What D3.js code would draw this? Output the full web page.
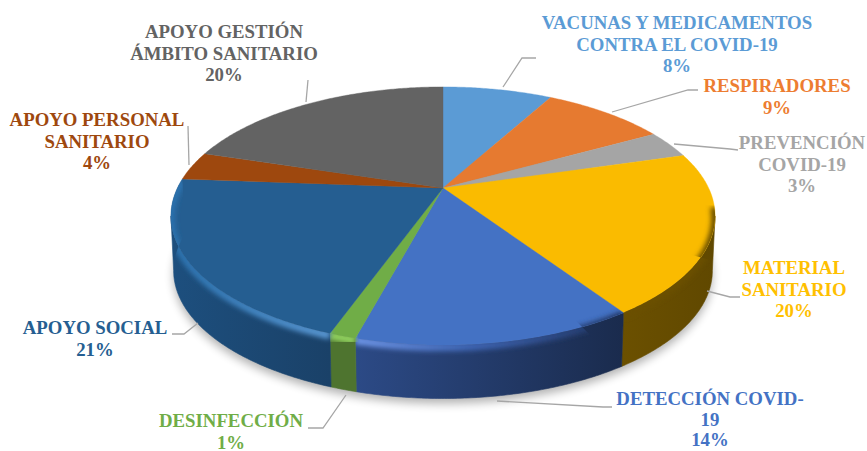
<!DOCTYPE html>
<html><head><meta charset="utf-8">
<style>html,body{margin:0;padding:0;background:#fff}svg{display:block}text{font-family:"Liberation Serif","Times New Roman",serif;font-weight:bold;font-size:18.8px;text-anchor:middle}</style>
<script src="https://cdnjs.cloudflare.com/ajax/libs/d3/7.8.5/d3.min.js"></script>
</head><body>
<script>
const categories=[["VACUNAS Y MEDICAMENTOS","CONTRA EL COVID-19"],["RESPIRADORES"],["PREVENCIÓN","COVID-19"],["MATERIAL","SANITARIO"],["DETECCIÓN COVID-","19"],["DESINFECCIÓN"],["APOYO SOCIAL"],["APOYO PERSONAL","SANITARIO"],["APOYO GESTIÓN","ÁMBITO SANITARIO"]];
const values=[8,9,3.49,20.11,13.6,1.3,20.7,3.6,20.2];
const colors=["#5b9bd5","#e67a30","#a5a5a5","#fabb00","#4472c4","#70ad47","#255e91","#9e480e","#636363"];
const labelColors=["#5b9bd5","#ed7d31","#a5a5a5","#ffc000","#4472c4","#70ad47","#255e91","#9e480e","#636363"];
const sideLeft=["#000","#000","#000","#6b5000","#2c4a86","#4e742f","#1d4f7e","#000","#000"];
const sideRight=["#000","#000","#000","#604800","#1a2b4d","#4e742f","#1a4168","#000","#000"];
const rimColors=["#000","#000","#000","#6b5000","#6d94e6","#92d35e","#5c9ad6","#000","#000"];

const W=867,H=451,cx=443,cy=188,K=0.217,A=123,B=265.6,depth=55,shrink=0.99;
const svg=d3.select("body").append("svg").attr("width",W).attr("height",H);
const defs=svg.append("defs");
defs.append("filter").attr("id","sh").attr("x","-10%").attr("y","-10%").attr("width","120%").attr("height","130%").append("feGaussianBlur").attr("stdDeviation",5);
defs.append("filter").attr("id","rim").attr("x","-10%").attr("y","-30%").attr("width","120%").attr("height","160%").append("feGaussianBlur").attr("stdDeviation",2.6);

const pie=d3.pie().sort(null).value(d=>d);
const arcs=pie(values);
const xS=d3.scaleLinear().domain([-1,1]).range([cx-B,cx+B]);
const yS=d3.scaleLinear().domain([-1,1]).range([cy-A,cy+A]);
function project(t,r=1,s=1,dy=0){
  const u=r*Math.sin(t),v=-r*Math.cos(t),den=1-K*v;
  return [cx+(xS(u/den)-cx)*s, cy+(yS(v/den)-cy)*s+dy];
}
function arcPts(a,b,s=1,dy=0){
  const n=Math.max(2,Math.ceil(Math.abs(b-a)/0.01));
  return d3.range(n+1).map(i=>project(a+(b-a)*i/n,1,s,dy));
}
const line=d3.line();
const sweep=[Math.PI/180*102.5,Math.PI/180*257.5];

// soft shadow under the pie
const hull=arcPts(0,2*Math.PI,shrink,depth);
svg.append("path").attr("d",line(hull)+"Z").attr("transform","translate(0,5)").attr("fill","#000").attr("opacity",.3).attr("filter","url(#sh)");

// side wall
const sides=svg.append("g");
arcs.forEach((d,i)=>{
  const a=Math.max(d.startAngle,sweep[0]),b=Math.min(d.endAngle,sweep[1]);
  if(a>=b) return;
  const id="sg"+i,top=arcPts(a,b),bot=arcPts(a,b,shrink,depth).reverse();
  const x0=d3.min(top,p=>p[0]),x1=d3.max(top,p=>p[0]);
  const g=defs.append("linearGradient").attr("id",id).attr("gradientUnits","userSpaceOnUse").attr("x1",x0).attr("x2",x1).attr("y1",0).attr("y2",0);
  g.append("stop").attr("offset",0).attr("stop-color",sideLeft[i]);
  g.append("stop").attr("offset",1).attr("stop-color",sideRight[i]);
  sides.append("path").attr("d",line(top.concat(bot))+"Z").attr("fill",`url(#${id})`).attr("stroke",`url(#${id})`).attr("stroke-width",.6);
});

// top face
const face=svg.append("g");
arcs.forEach((d,i)=>{
  const pts=[project(0,0)].concat(arcPts(d.startAngle,d.endAngle));
  face.append("path").attr("d",line(pts)+"Z").attr("fill",colors[i]).attr("stroke",colors[i]).attr("stroke-width",.4);
});

// bevel along the front rim
const rimG=svg.append("g");
arcs.forEach((d,i)=>{
  const a=Math.max(d.startAngle,sweep[0]-0.08),b=Math.min(d.endAngle,sweep[1]+0.3);
  if(a>=b) return;
  const cp="cp"+i,outer=arcPts(a,b),lower=arcPts(a,b,shrink,depth).reverse();
  defs.append("clipPath").attr("id",cp).append("path").attr("d",line([project(0,0)].concat(outer,lower))+"Z");
  const g=defs.append("linearGradient").attr("id","rg"+i).attr("gradientUnits","userSpaceOnUse").attr("x1",cx-272).attr("x2",cx+272).attr("y1",0).attr("y2",0);
  if(i===6){
    g.append("stop").attr("offset",0).attr("stop-color","#2a70ac");
    g.append("stop").attr("offset",.3).attr("stop-color",rimColors[i]);
  } else if(i===4){
    g.append("stop").attr("offset",.35).attr("stop-color",rimColors[i]);
    g.append("stop").attr("offset",.55).attr("stop-color","#3f66b5");
    g.append("stop").attr("offset",.85).attr("stop-color","#1c2f58");
  } else {
    g.append("stop").attr("offset",0).attr("stop-color",rimColors[i]);
  }
  rimG.append("g").attr("clip-path",`url(#${cp})`)
    .append("path").attr("d",line(arcPts(a,b,1,2))).attr("fill","none").attr("stroke",`url(#rg${i})`).attr("stroke-width",8).attr("filter","url(#rim)");
});

// leader lines
const leaders=[[[503,87],[522,58],[536,58]],[[612,112],[688,90],[698,90]],[[674,144],[730,149],[738,150]],[[707,291],[730,297],[740,297]],[[497,401],[603,407],[612,407]],[[346,395],[323,428],[308,428]],[[198,323],[184,334],[172,334]],[[189,165],[188,126]],[[306,102],[308,80]]];
svg.append("g").selectAll("path").data(leaders).join("path").attr("d",d=>line(d)).attr("fill","none").attr("stroke","#a6a6a6").attr("stroke-width",1.3);

// labels
const labelPos=[[677,29],[777,92],[802,149],[794,274],[710,405],[231,427],[95,334],[97,126],[224,38]];
const lineHs=[21.5,21.5,21.5,21.5,20.5,21.5,21.5,21.5,21.5];
const labels=svg.append("g");
arcs.forEach((d,i)=>{
  const t=labels.append("text").attr("fill",labelColors[i]);
  const rows=categories[i].concat([Math.round(values[i])+"%"]);
  rows.forEach((r,j)=>t.append("tspan").attr("x",labelPos[i][0]).attr("y",labelPos[i][1]+j*lineHs[i]).text(r));
});
</script>
</body></html>
